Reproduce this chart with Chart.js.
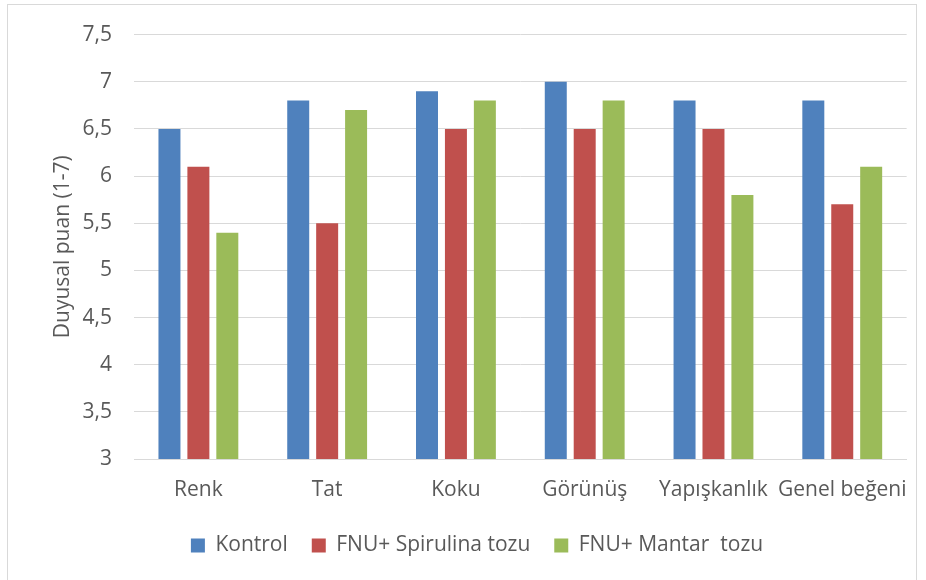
<!DOCTYPE html>
<html>
<head>
<meta charset="utf-8">
<script src="https://cdn.jsdelivr.net/npm/chart.js@4"></script>
<style>
  html, body { margin: 0; padding: 0; background: #fff; }
  #wrap { position: relative; width: 926px; height: 580px; }
  #frame { position: absolute; left: 7px; top: 4px; width: 910px; height: 580px; border: 1px solid #d9d9d9; box-sizing: border-box; }
  canvas { position: absolute; left: 0; top: 0; }
</style>
</head>
<body>
<div id="wrap">
  <div id="frame"></div>
  <canvas id="c" width="926" height="580"></canvas>
</div>
<script>
const categories = ["Renk", "Tat", "Koku", "Görünüş", "Yapışkanlık", "Genel beğeni"];
const kontrol = [6.5, 6.8, 6.9, 7.0, 6.8, 6.8];
const spirulina = [6.1, 5.5, 6.5, 6.5, 6.5, 5.7];
const mantar = [5.4, 6.7, 6.8, 6.8, 5.8, 6.1];
const seriesNames = ["Kontrol", "FNU+ Spirulina tozu", "FNU+ Mantar  tozu"];
const yTitle = "Duyusal puan (1-7)";

const FONT = "'Open Sans', 'Liberation Sans', sans-serif";
const TXT = "#595959";
const FS = 21;

new Chart(document.getElementById("c"), {
  type: "bar",
  data: {
    labels: categories,
    datasets: [
      { label: seriesNames[0], data: kontrol, backgroundColor: "#4F81BD" },
      { label: seriesNames[1], data: spirulina, backgroundColor: "#C0504D" },
      { label: seriesNames[2], data: mantar, backgroundColor: "#9BBB59" }
    ]
  },
  options: {
    responsive: false,
    animation: false,
    devicePixelRatio: 1,
    layout: { padding: { top: 26, right: 18, left: 46, bottom: 14 } },
    datasets: { bar: { categoryPercentage: 0.674, barPercentage: 0.76 } },
    plugins: {
      tooltip: { enabled: false },
      legend: {
        position: "bottom",
        labels: {
          boxWidth: 14, boxHeight: 14, padding: 24,
          color: TXT, font: { family: FONT, size: FS }
        }
      }
    },
    scales: {
      x: {
        grid: { display: false, drawTicks: false },
        border: { color: "#d9d9d9" },
        ticks: { color: TXT, font: { family: FONT, size: FS }, padding: 18, maxRotation: 0, minRotation: 0, autoSkip: false },
        afterFit: (s) => { s.height = 52; }
      },
      y: {
        min: 3, max: 7.5,
        grid: { color: "#d9d9d9", drawTicks: false },
        border: { display: false },
        ticks: {
          stepSize: 0.5, color: TXT, padding: 22,
          font: { family: FONT, size: FS },
          callback: (v) => String(v).replace(".", ",")
        },
        title: { display: true, text: yTitle, color: TXT, font: { family: FONT, size: FS }, padding: { top: 4, bottom: 0 } },
        afterFit: (s) => { s.width = 88; }
      }
    }
  }
});
</script>
</body>
</html>
